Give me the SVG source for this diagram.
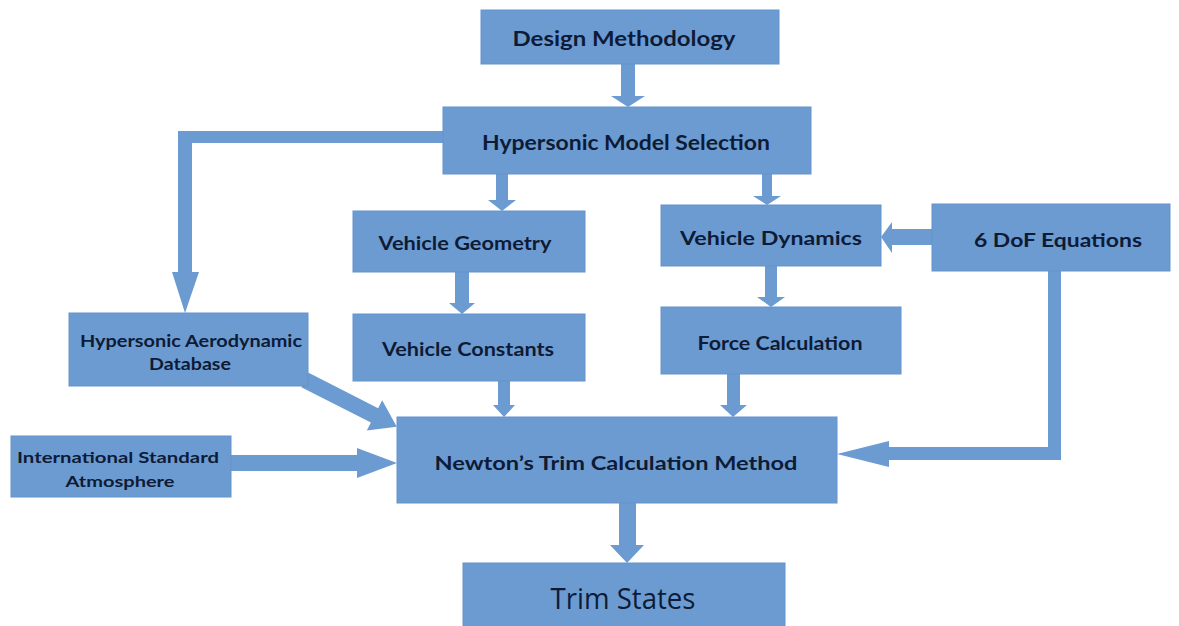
<svg xmlns="http://www.w3.org/2000/svg" width="1179" height="626" viewBox="0 0 1179 626">
<style>
.box{fill:#6c9bd2;stroke:#6593cb;stroke-width:1}
.arr{fill:#6c9bd2}
.t{font-family:Lato,"Liberation Sans",sans-serif;font-weight:bold;fill:#0e1b36;text-anchor:middle;dominant-baseline:central}
.big{font-family:"Open Sans","Liberation Sans",sans-serif;font-weight:normal;fill:#0e1b36;text-anchor:middle;dominant-baseline:central;font-size:30px}
</style>
<rect width="1179" height="626" fill="#ffffff"/>
<g id="connectors">
  <polygon class="arr" points="621,64 635,64 635,96 645,96 628,107 611,96 621,96"/>
  <polygon class="arr" points="496,174 508,174 508,200 516,200 502,211 488,200 496,200"/>
  <polygon class="arr" points="762,174 772,174 772,196 781,196 767,205 753,196 762,196"/>
  <polygon class="arr" points="455,272 469,272 469,303 475,303 462,314 449,303 455,303"/>
  <polygon class="arr" points="765,266 777,266 777,297 785,297 771,307 757,297 765,297"/>
  <polygon class="arr" points="498,381 510,381 510,405 515,405 504,417 493,405 498,405"/>
  <polygon class="arr" points="727,374 740,374 740,405 747,405 733,417 720,405 727,405"/>
  <polygon class="arr" points="619,503 636,503 636,545 644,545 627,563 610,545 619,545"/>
  <polygon class="arr" points="932,229 932,245 892,245 892,253 881,237 892,222 892,229"/>
  <polygon class="arr" points="443,131 443,143 192,143 192,272 199,272 185,313 172,272 178,272 178,131"/>
  <polygon class="arr" points="1048,271 1061,271 1061,460 889,460 889,467 837,454 889,441 889,447 1048,447"/>
  <polygon class="arr" points="231,455 357,455 357,448 397,463 357,478 357,471 231,471"/>
  <g transform="translate(305,380) rotate(27)">
    <polygon class="arr" points="0,-8 78,-8 78,-17 103,0 78,17 78,8 0,8"/>
  </g>
</g>
<g id="design-methodology">
  <rect class="box" x="481" y="10" width="298" height="54"/>
  <text class="t" x="624" y="38" font-size="20" textLength="223" lengthAdjust="spacingAndGlyphs">Design Methodology</text>
</g>
<g id="hypersonic-model-selection">
  <rect class="box" x="443" y="107" width="368" height="67"/>
  <text class="t" x="626" y="142" font-size="20" textLength="288" lengthAdjust="spacingAndGlyphs">Hypersonic Model Selection</text>
</g>
<g id="vehicle-geometry">
  <rect class="box" x="353" y="211" width="232" height="61"/>
  <text class="t" x="465" y="243" font-size="18" textLength="173" lengthAdjust="spacingAndGlyphs">Vehicle Geometry</text>
</g>
<g id="vehicle-constants">
  <rect class="box" x="353" y="314" width="232" height="67"/>
  <text class="t" x="468" y="349" font-size="18" textLength="172" lengthAdjust="spacingAndGlyphs">Vehicle Constants</text>
</g>
<g id="vehicle-dynamics">
  <rect class="box" x="661" y="205" width="220" height="61"/>
  <text class="t" x="771" y="238" font-size="18" textLength="182" lengthAdjust="spacingAndGlyphs">Vehicle Dynamics</text>
</g>
<g id="six-dof-equations">
  <rect class="box" x="932" y="204" width="238" height="67"/>
  <text class="t" x="1058" y="240" font-size="18" textLength="168" lengthAdjust="spacingAndGlyphs">6 DoF Equations</text>
</g>
<g id="force-calculation">
  <rect class="box" x="661" y="307" width="240" height="67"/>
  <text class="t" x="780" y="343" font-size="18" textLength="165" lengthAdjust="spacingAndGlyphs">Force Calculation</text>
</g>
<g id="hypersonic-aerodynamic-database">
  <rect class="box" x="69" y="313" width="239" height="73"/>
  <text class="t" x="191" y="340" font-size="17" textLength="222" lengthAdjust="spacingAndGlyphs">Hypersonic Aerodynamic</text>
  <text class="t" x="190" y="363" font-size="17" textLength="82" lengthAdjust="spacingAndGlyphs">Database</text>
</g>
<g id="international-standard-atmosphere">
  <rect class="box" x="11" y="436" width="220" height="61"/>
  <text class="t" x="118" y="456" font-size="16" textLength="202" lengthAdjust="spacingAndGlyphs">International Standard</text>
  <text class="t" x="120" y="480" font-size="16" textLength="109" lengthAdjust="spacingAndGlyphs">Atmosphere</text>
</g>
<g id="newtons-trim-calculation-method">
  <rect class="box" x="397" y="417" width="440" height="86"/>
  <text class="t" x="616" y="462" font-size="19" textLength="363" lengthAdjust="spacingAndGlyphs">Newton’s Trim Calculation Method</text>
</g>
<g id="trim-states">
  <rect class="box" x="463" y="563" width="322" height="70"/>
  <text class="big" x="623" y="597" textLength="145" lengthAdjust="spacingAndGlyphs">Trim States</text>
</g>
</svg>
